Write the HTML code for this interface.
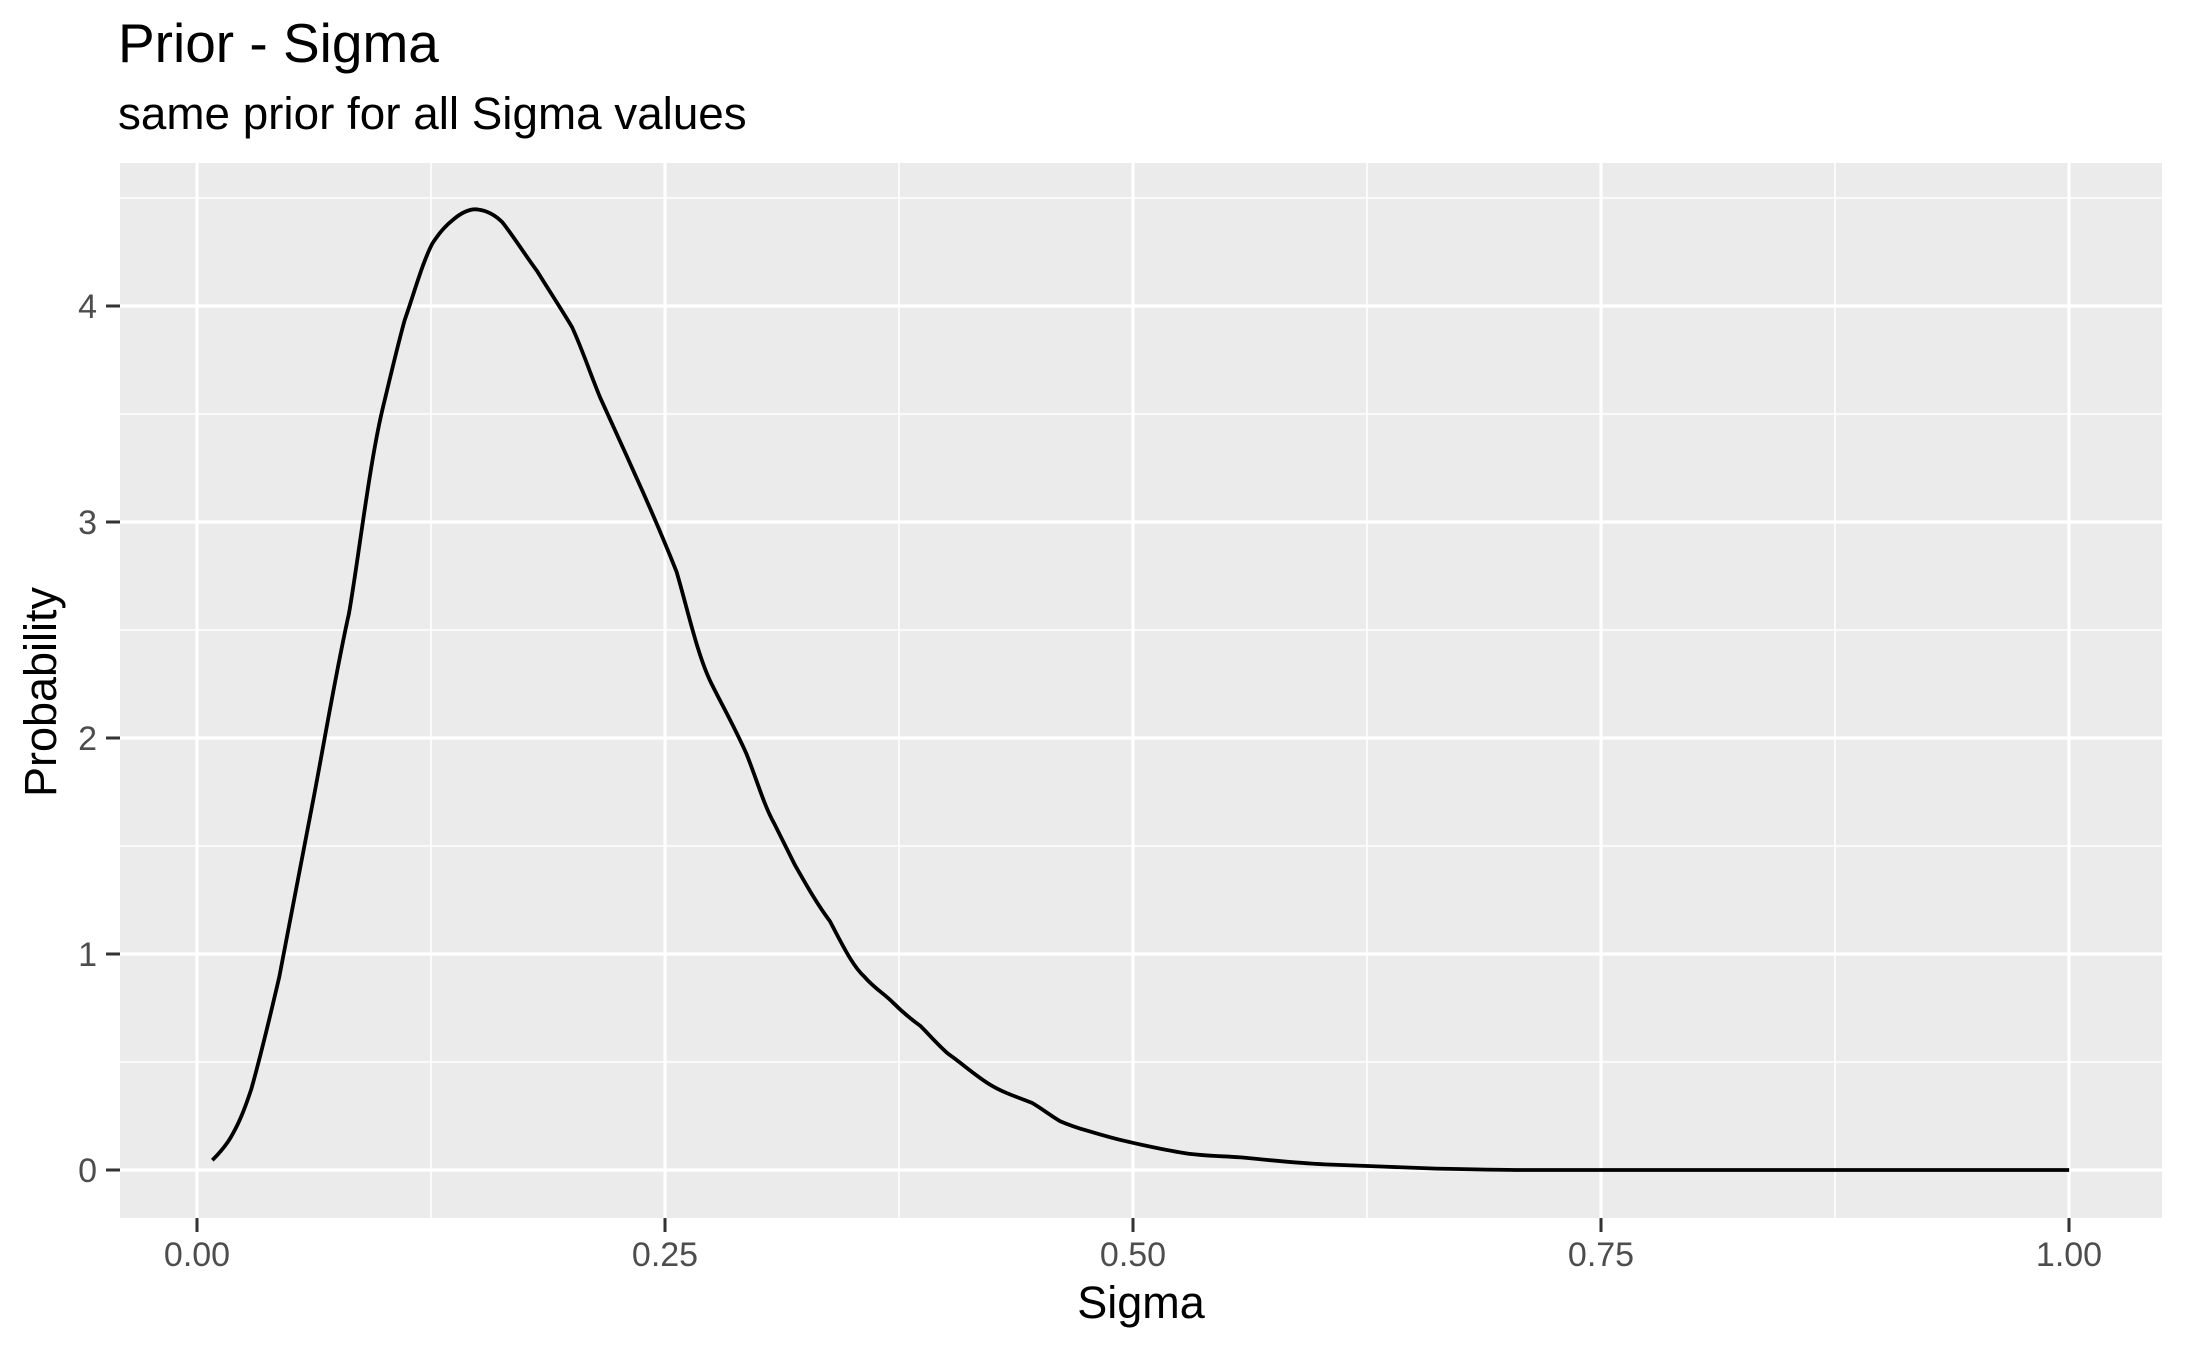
<!DOCTYPE html>
<html><head><meta charset="utf-8"><style>
body{margin:0;background:#fff;}
svg{display:block;font-family:"Liberation Sans",sans-serif;}
</style></head><body>
<svg width="2187" height="1350" viewBox="0 0 2187 1350" xmlns="http://www.w3.org/2000/svg">
<rect width="2187" height="1350" fill="#fff"/>
<text x="118" y="62" font-size="55" fill="#000">Prior - Sigma</text>
<text x="118" y="129" font-size="45.8" fill="#000">same prior for all Sigma values</text>
<rect x="120" y="163" width="2042" height="1055" fill="#ebebeb"/>
<g stroke="#fff" stroke-width="1.6">
<line x1="120" x2="2162" y1="1062" y2="1062"/><line x1="120" x2="2162" y1="846" y2="846"/>
<line x1="120" x2="2162" y1="630" y2="630"/><line x1="120" x2="2162" y1="414" y2="414"/>
<line x1="120" x2="2162" y1="198" y2="198"/>
<line x1="431" x2="431" y1="163" y2="1218"/><line x1="899" x2="899" y1="163" y2="1218"/>
<line x1="1367" x2="1367" y1="163" y2="1218"/><line x1="1835" x2="1835" y1="163" y2="1218"/>
</g>
<g stroke="#fff" stroke-width="3.2">
<line x1="120" x2="2162" y1="1170" y2="1170"/><line x1="120" x2="2162" y1="954" y2="954"/>
<line x1="120" x2="2162" y1="738" y2="738"/><line x1="120" x2="2162" y1="522" y2="522"/>
<line x1="120" x2="2162" y1="306" y2="306"/>
<line x1="197" x2="197" y1="163" y2="1218"/><line x1="665" x2="665" y1="163" y2="1218"/>
<line x1="1133" x2="1133" y1="163" y2="1218"/><line x1="1601" x2="1601" y1="163" y2="1218"/>
<line x1="2069" x2="2069" y1="163" y2="1218"/>
</g>
<g transform="translate(197,1170) scale(1.394,1.398) translate(-141,-838)">
<path fill="none" stroke="#000" stroke-width="3.8" vector-effect="non-scaling-stroke" stroke-linejoin="round" stroke-linecap="butt"
d="M152,831 C158,825 162,820 165,815 C171,805 175,795 180,780 C187,755 193,730 200,700 C209,655 217,612 225,570 C233,528 241,480 250,440 C257,400 265,330 275,290 C281,265 285,248 290,230 C297,210 303,188 310,175 C316,166 320,162 325,158 C331,153 337,150 343,151 C350,152 355,155 360,160 C368,170 376,183 385,195 C393,208 401,220 410,235 C417,250 423,268 430,285 C439,305 447,322 455,340 C465,362 475,385 485,410 C493,437 500,470 510,490 C518,506 527,522 535,540 C542,557 548,578 555,590 C560,600 565,610 570,620 C578,634 586,648 595,660 C603,675 611,692 620,700 C627,708 634,712 640,718 C647,725 653,730 660,735 C667,742 673,749 680,755 C690,762 700,771 710,777 C720,783 730,786 740,790 C747,794 753,799 760,803 C767,806 773,808 780,810 C790,813 800,816 810,818 C823,821 837,824 850,826 C863,828 877,828 890,829 C910,831 930,833 950,834 C977,835 1003,836 1030,837 C1053,837.5 1077,838 1100,838 L1484,838"/>
</g>
<g stroke="#333" stroke-width="3">
<line x1="106" x2="120" y1="1170" y2="1170"/><line x1="106" x2="120" y1="954" y2="954"/>
<line x1="106" x2="120" y1="738" y2="738"/><line x1="106" x2="120" y1="522" y2="522"/>
<line x1="106" x2="120" y1="306" y2="306"/>
<line x1="197" x2="197" y1="1218" y2="1232"/><line x1="665" x2="665" y1="1218" y2="1232"/>
<line x1="1133" x2="1133" y1="1218" y2="1232"/><line x1="1601" x2="1601" y1="1218" y2="1232"/>
<line x1="2069" x2="2069" y1="1218" y2="1232"/>
</g>
<g font-size="34" fill="#4d4d4d" text-anchor="end">
<text x="97" y="1182">0</text><text x="97" y="966">1</text><text x="97" y="750">2</text>
<text x="97" y="534">3</text><text x="97" y="318">4</text>
</g>
<g font-size="34" fill="#4d4d4d" text-anchor="middle">
<text x="197" y="1266">0.00</text><text x="665" y="1266">0.25</text><text x="1133" y="1266">0.50</text>
<text x="1601" y="1266">0.75</text><text x="2069" y="1266">1.00</text>
</g>
<text x="1141" y="1318" font-size="45" text-anchor="middle" fill="#000">Sigma</text>
<text transform="translate(56,692) rotate(-90)" font-size="45" text-anchor="middle" fill="#000">Probability</text>
</svg>
</body></html>
